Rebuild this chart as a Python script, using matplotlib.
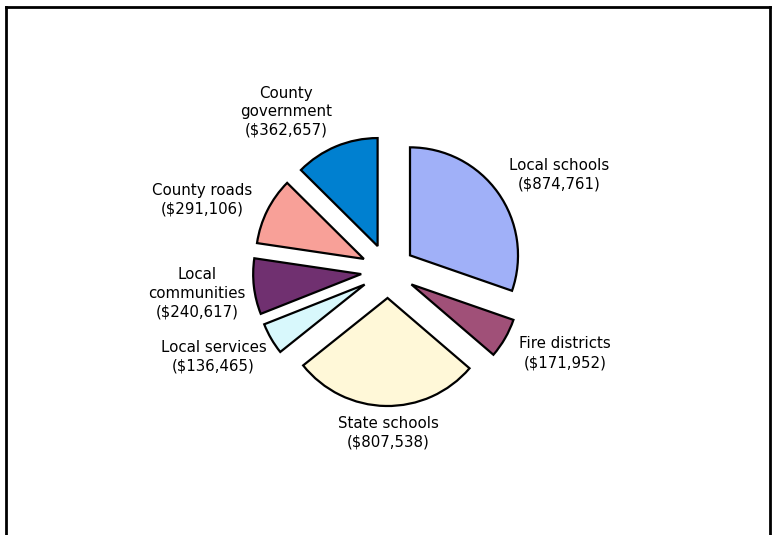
import numpy as np
import matplotlib
matplotlib.use("Agg")
import matplotlib.pyplot as plt
from matplotlib.lines import Line2D

categories = ["Local schools", "Fire districts", "State schools", "Local services",
              "Local communities", "County roads", "County government"]
values = [874761, 171952, 807538, 136465, 240617, 291106, 362657]
label_text = ["Local schools", "Fire districts", "State schools", "Local services",
              "Local\ncommunities", "County roads", "County\ngovernment"]
colors = ["#A0B0F8", "#A05078", "#FFF8D8", "#D8F8FC", "#703070", "#F8A098", "#0080D0"]

# label placement tweaks (distance in radii, angle shift in degrees clockwise)
label_dist = [1.82, 1.81, 1.5, 1.8, 1.78, 1.84, 1.75]
label_shift = [6, -5, -1, 4, 0, -5.6, -10]

W, H = 775, 535
fig = plt.figure(figsize=(W / 100, H / 100), dpi=100)
ax = fig.add_axes([0, 0, 1, 1])
ax.set_xlim(0, W)
ax.set_ylim(0, H)
ax.set_aspect("equal")
ax.axis("off")

cx, cy, R = 388, H - 271, 108
# pie's explode offset is in data units, not radii
wedges, _ = ax.pie(values, colors=colors, startangle=90, counterclock=False,
                   explode=[0.25 * R] * len(values), center=(cx, cy), radius=R,
                   wedgeprops=dict(edgecolor="black", linewidth=1.6))
ax.set_xlim(0, W)
ax.set_ylim(0, H)

for w, name, v, d, s in zip(wedges, label_text, values, label_dist, label_shift):
    mid = np.deg2rad((w.theta1 + w.theta2) / 2 - s)
    x = cx + d * R * np.cos(mid)
    y = cy + d * R * np.sin(mid)
    ax.text(x, y, f"{name}\n(${v:,})", ha="center", va="center",
            fontsize=10.8, linespacing=1.3, color="black")

# frame around the chart (bottom edge falls outside the image)
lw = 2
fig.add_artist(Line2D([6 / W, 6 / W], [0, 1 - 7 / H], color="black", lw=lw))
fig.add_artist(Line2D([6 / W, 770 / W], [1 - 7 / H, 1 - 7 / H], color="black", lw=lw))
fig.add_artist(Line2D([770 / W, 770 / W], [0, 1 - 7 / H], color="black", lw=lw))

fig.savefig("out.png", dpi=100)
